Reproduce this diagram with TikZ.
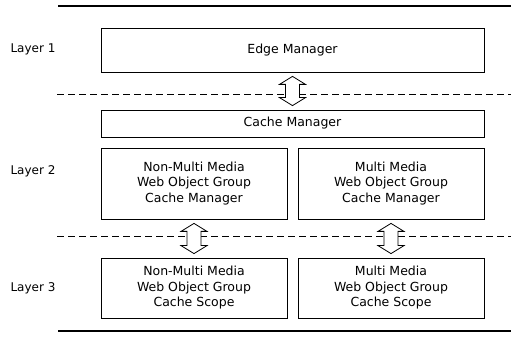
\documentclass[tikz,border=0pt]{standalone}
\usepackage{fontspec}
\setmainfont{DejaVu Sans}
\usetikzlibrary{calc}
\tikzset{
  box/.style={draw,line width=.8pt,align=center,inner sep=0pt,
    font=\fontsize{12.5}{15.5}\selectfont},
  layerlbl/.style={font=\fontsize{12}{14}\selectfont},
  solidrule/.style={line width=1.6pt},
  dashrule/.style={line width=.8pt,dash pattern=on 7pt off 4pt},
  updown/.style={draw,fill=white,line width=.8pt,line join=miter},
}

\begin{document}
\begin{tikzpicture}[x=1pt,y=1pt]
    \useasboundingbox (0,0) rectangle (511,340);
    % rules between the layers
    \draw[solidrule] (58,334) -- (511,334);
    \draw[dashrule] (57,246) -- (511,246);
    \draw[dashrule] (57,104) -- (511,104);
    \draw[solidrule] (58,9) -- (511,9);
    % layer 1
    \node[layerlbl] (l1) at (33,291) {Layer 1};
    \node[box,minimum width=383pt,minimum height=44pt] (edge) at (292.5,290) {Edge Manager};
    % layer 2
    \node[layerlbl] (l2) at (33,169) {Layer 2};
    \node[box,minimum width=383pt,minimum height=27pt] (cache) at (292.5,216.5) {Cache Manager};
    \node[box,minimum width=186pt,minimum height=71pt] (nmgrp) at (194,156.5)
      {Non-Multi Media\\Web Object Group\\Cache Manager};
    \node[box,minimum width=186pt,minimum height=71pt] (mmgrp) at (391,156.5)
      {Multi Media\\Web Object Group\\Cache Manager};
    % layer 3
    \node[layerlbl] (l3) at (33,52) {Layer 3};
    \node[box,minimum width=186pt,minimum height=60pt] (nmscope) at (194,52)
      {Non-Multi Media\\Web Object Group\\Cache Scope};
    \node[box,minimum width=186pt,minimum height=60pt] (mmscope) at (391,52)
      {Multi Media\\Web Object Group\\Cache Scope};
    % hollow two-way arrows
    \foreach \a/\b in {edge/cache,nmgrp/nmscope,mmgrp/mmscope} {
        \draw[updown] ($(\a.south)+(0,-4)$) -- ++(-13,-8) -- ++(6,0)
          -- ($(\b.north)+(-7,12)$) -- ++(-6,0) -- ($(\b.north)+(0,4)$)
          -- ++(13,8) -- ++(-6,0) -- ($(\a.south)+(7,-12)$) -- ++(6,0) -- cycle;
      }
  \end{tikzpicture}
\end{document}
